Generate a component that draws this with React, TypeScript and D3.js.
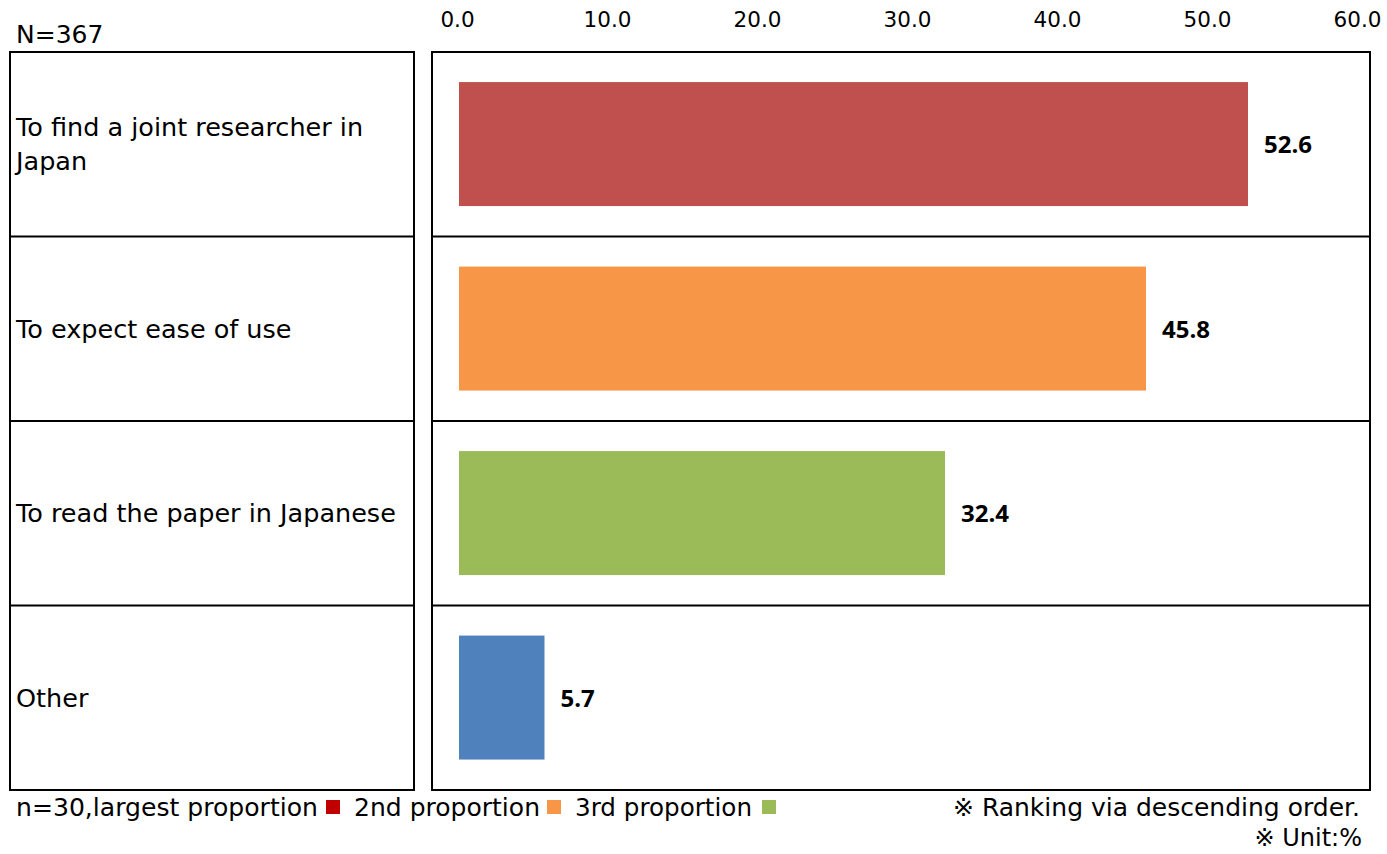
import React from "react";
import * as d3 from "d3";

const categories = [
  "To find a joint researcher in Japan",
  "To expect ease of use",
  "To read the paper in Japanese",
  "Other",
];
const categoryLines = [
  ["To find a joint researcher in", "Japan"],
  ["To expect ease of use"],
  ["To read the paper in Japanese"],
  ["Other"],
];
const values = [52.6, 45.8, 32.4, 5.7];
const barColors = ["#C0504D", "#F79646", "#9BBB59", "#4F81BD"];
const tickValues = [0, 10, 20, 30, 40, 50, 60];
const legendItems = [
  { label: "n=30,largest proportion", color: "#C00000" },
  { label: "2nd proportion", color: "#F79646" },
  { label: "3rd proportion", color: "#9BBB59" },
];

const W = 1387;
const H = 854;
const FONT = "'DejaVu Sans', Verdana, sans-serif";

export default function App() {
  const top = 52;
  const bottom = 790;
  const leftBox = { x0: 10, x1: 414 };
  const rightBox = { x0: 432, x1: 1370 };
  const x = d3.scaleLinear().domain([0, 60]).range([459, 1359]);
  const y = d3.scaleBand<string>().domain(categories).range([top, bottom]).padding(0);
  const rowH = y.bandwidth();

  const legendX = [16, 354, 575];
  const legendW = [302, 186, 177];
  const squareX = [326, 547, 762];

  return (
    <svg width={W} height={H} style={{ position: "absolute", left: 0, top: 0, background: "#fff" }} fontFamily={FONT}>
      <rect x={0} y={0} width={W} height={H} fill="#fff" />
      <text x={16} y={43} fontSize={25} fill="#000">N=367</text>
      {tickValues.map((t) => (
        <text key={t} x={x(t) - 1.5} y={27} fontSize={21.5} textAnchor="middle" fill="#000">
          {t.toFixed(1)}
        </text>
      ))}
      <rect x={leftBox.x0} y={top} width={leftBox.x1 - leftBox.x0} height={bottom - top} fill="none" stroke="#000" strokeWidth={2} />
      <rect x={rightBox.x0} y={top} width={rightBox.x1 - rightBox.x0} height={bottom - top} fill="none" stroke="#000" strokeWidth={2} />
      {categories.slice(1).map((c) => (
        <g key={c}>
          <line x1={leftBox.x0} x2={leftBox.x1} y1={y(c)!} y2={y(c)!} stroke="#000" strokeWidth={2} />
          <line x1={rightBox.x0} x2={rightBox.x1} y1={y(c)!} y2={y(c)!} stroke="#000" strokeWidth={2} />
        </g>
      ))}
      {categories.map((c, i) => {
        const lines = categoryLines[i];
        const mid = y(c)! + rowH / 2;
        const lh = 34;
        const startY = mid - ((lines.length - 1) * lh) / 2 + 9;
        return (
          <text key={c} x={16} fontSize={25.5} fill="#000">
            {lines.map((l, j) => (
              <tspan key={j} x={16} y={startY + j * lh}>{l}</tspan>
            ))}
          </text>
        );
      })}
      {categories.map((c, i) => {
        const y0 = y(c)! + rowH * 0.163;
        const h = rowH * 0.672;
        const mid = y(c)! + rowH / 2;
        return (
          <g key={c}>
            <rect x={x(0)} y={y0} width={x(values[i]) - x(0)} height={h} fill={barColors[i]} />
            <text x={x(values[i]) + 16} y={mid + 9} fontSize={24} fontWeight="bold" fill="#000" fontFamily="'Open Sans', sans-serif">
              {values[i].toFixed(1)}
            </text>
          </g>
        );
      })}
      {legendItems.map((it, i) => (
        <g key={it.label}>
          <text x={legendX[i]} y={816} fontSize={25} fill="#000" textLength={legendW[i]} lengthAdjust="spacingAndGlyphs">
            {it.label}
          </text>
          <rect x={squareX[i]} y={800} width={14} height={14} fill={it.color} />
        </g>
      ))}
      <text x={1360} y={816} fontSize={25} textAnchor="end" fill="#000">※ Ranking via descending order.</text>
      <text x={1362} y={846} fontSize={24} textAnchor="end" fill="#000">※ Unit:%</text>
    </svg>
  );
}
